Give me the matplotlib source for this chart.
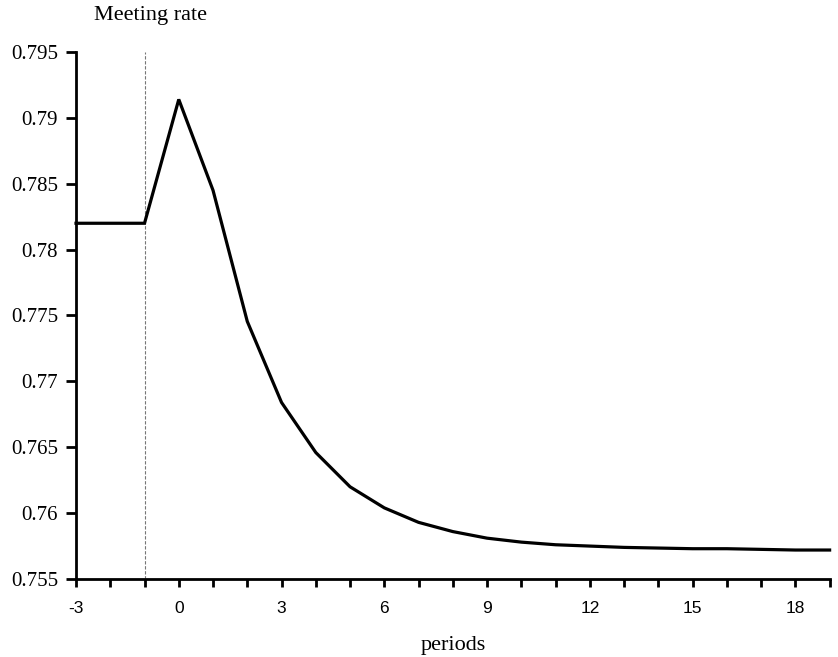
import matplotlib
matplotlib.use('Agg')
import matplotlib.pyplot as plt
from matplotlib.ticker import MultipleLocator

# Meeting rate after the shock
periods = [-3, -2, -1, 0, 1, 2, 3, 4, 5, 6, 7, 8, 9, 10, 11, 12, 13, 14, 15, 16, 17, 18, 19]
meeting_rate = [0.7820, 0.7820, 0.7820, 0.7914, 0.7845, 0.77455, 0.7684, 0.7646,
                0.7620, 0.7604, 0.7593, 0.7586, 0.7581, 0.7578, 0.7576, 0.7575,
                0.7574, 0.75735, 0.7573, 0.7573, 0.75725, 0.7572, 0.7572]
shock_period = -1
y_ticks = [0.755, 0.76, 0.765, 0.77, 0.775, 0.78, 0.785, 0.79, 0.795]
y_labels = ['0.755', '0.76', '0.765', '0.77', '0.775', '0.78', '0.785', '0.79', '0.795']
x_ticks = [-3, 0, 3, 6, 9, 12, 15, 18]

serif = ['Liberation Serif', 'DejaVu Serif']
sans = ['Liberation Sans', 'DejaVu Sans']

fig = plt.figure(figsize=(8.38, 6.57), dpi=100)
ax = fig.add_axes([0.0907, 0.1187, 0.8993, 0.8022])

ax.axvline(shock_period, color='#777777', lw=0.8, ls=(0, (3, 1.5)))
ax.plot(periods, meeting_rate, color='black', lw=2.3, solid_joinstyle='miter', clip_on=False)

ax.set_xlim(-3, 19)
ax.set_ylim(0.755, 0.795)
ax.set_yticks(y_ticks)
ax.set_yticklabels(y_labels, fontfamily=serif, fontsize=15)
ax.set_xticks(x_ticks)
ax.set_xticklabels([str(t) for t in x_ticks], fontfamily=sans, fontsize=12.5)
ax.xaxis.set_minor_locator(MultipleLocator(1))

for side in ['top', 'right']:
    ax.spines[side].set_visible(False)
for side in ['left', 'bottom']:
    ax.spines[side].set_linewidth(2)
ax.tick_params(axis='y', which='major', direction='out', length=7, width=2, pad=6)
ax.tick_params(axis='x', which='both', direction='out', length=6, width=2, pad=10)

ax.set_xlabel('periods', fontfamily=serif, fontsize=16, labelpad=14)
fig.text(0.180, 0.977, 'Meeting rate', fontfamily=serif, fontsize=16, ha='center', va='center')

fig.savefig('out.png', dpi=100)
